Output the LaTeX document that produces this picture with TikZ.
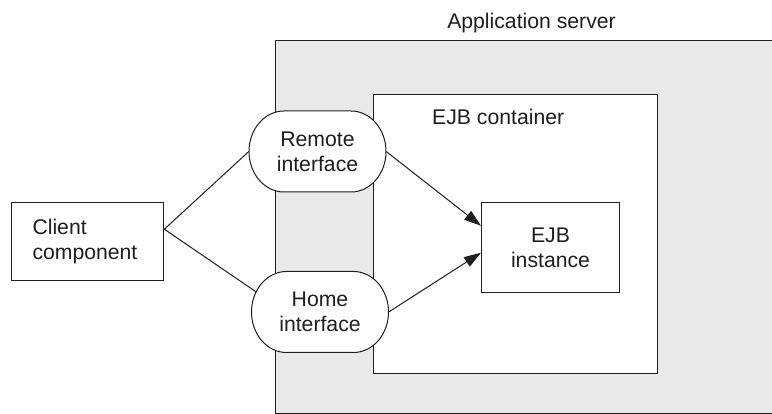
\documentclass[tikz,border=0pt]{standalone}
\usepackage{fontspec}
\setmainfont{Liberation Sans}
\usetikzlibrary{arrows.meta,calc}
\definecolor{srvgray}{RGB}{232,233,235}
\definecolor{ink}{RGB}{30,30,30}
\pgfdeclarelayer{back}
\pgfdeclarelayer{mid}
\pgfsetlayers{back,mid,main}
\tikzset{
  txt/.style={font=\fontsize{21.2}{25}\selectfont, text=ink},
  boxline/.style={draw=ink, line width=1pt},
  plainbox/.style={boxline, fill=white, txt, align=center, inner sep=0pt},
  ifacenode/.style={txt, align=center, minimum width=137pt, minimum height=81pt, inner sep=0pt},
  iface/.pic={
    \filldraw[boxline, fill=white]
      (-33.5pt,40.5pt) -- (33.5pt,40.5pt)
      arc[start angle=90, end angle=-90, x radius=35pt, y radius=40.5pt]
      -- (-33.5pt,-40.5pt)
      arc[start angle=270, end angle=90, x radius=35pt, y radius=40.5pt]
      -- cycle;
  },
  link/.style={draw=ink, line width=1pt},
  call/.style={link, -{Triangle[length=17pt,width=11pt]}},
}
\begin{document}
\begin{tikzpicture}[x=1pt, y=-1pt]
  \useasboundingbox (0,0) rectangle (772,414);

  % application server area (open on the right)
  \begin{pgfonlayer}{back}
    \fill[srvgray] (275,40.5) rectangle (772,413);
    \draw[boxline] (772,40.5) -- (275,40.5) -- (275,413) -- (772,413);
    \node[boxline, fill=white, minimum width=284pt, minimum height=278.5pt,
          inner sep=0pt, anchor=north west] (container) at (373,94.5) {};
  \end{pgfonlayer}

  \node[txt, anchor=base] (srvlabel) at (531.5,29) {Application server};
  \node[txt, anchor=base west, inner sep=0pt] (ctrlabel) at (432,125) {EJB container};

  % EJB instance
  \node[plainbox, minimum width=138pt, minimum height=89.5pt, anchor=north west]
    (inst) at (481,202.5) {EJB\\instance};

  % client
  \node[boxline, fill=white, txt, align=left, text width=110.3pt,
        inner xsep=21pt, inner ysep=0pt, minimum height=77.7pt, anchor=west]
    (client) at (11,241.2) {Client\\component};

  % interfaces
  \node[ifacenode] (remote) at (317.5,151.5) {Remote\\interface};
  \node[ifacenode] (home) at (320,312) {Home\\interface};
  \begin{pgfonlayer}{mid}
    \pic at (remote.center) {iface};
    \pic at (home.center) {iface};
  \end{pgfonlayer}

  % connectors
  \coordinate (fork) at ([yshift=12pt]client.east);
  \draw[link] (fork) -- (remote.west);
  \draw[link] (fork) -- ([xshift=5pt,yshift=20pt]home.west);
  \draw[call] (remote.east) -- ([yshift=22pt]inst.west);
  \draw[call] (home.east) -- ([yshift=-5pt]inst.west);
\end{tikzpicture}
\end{document}
